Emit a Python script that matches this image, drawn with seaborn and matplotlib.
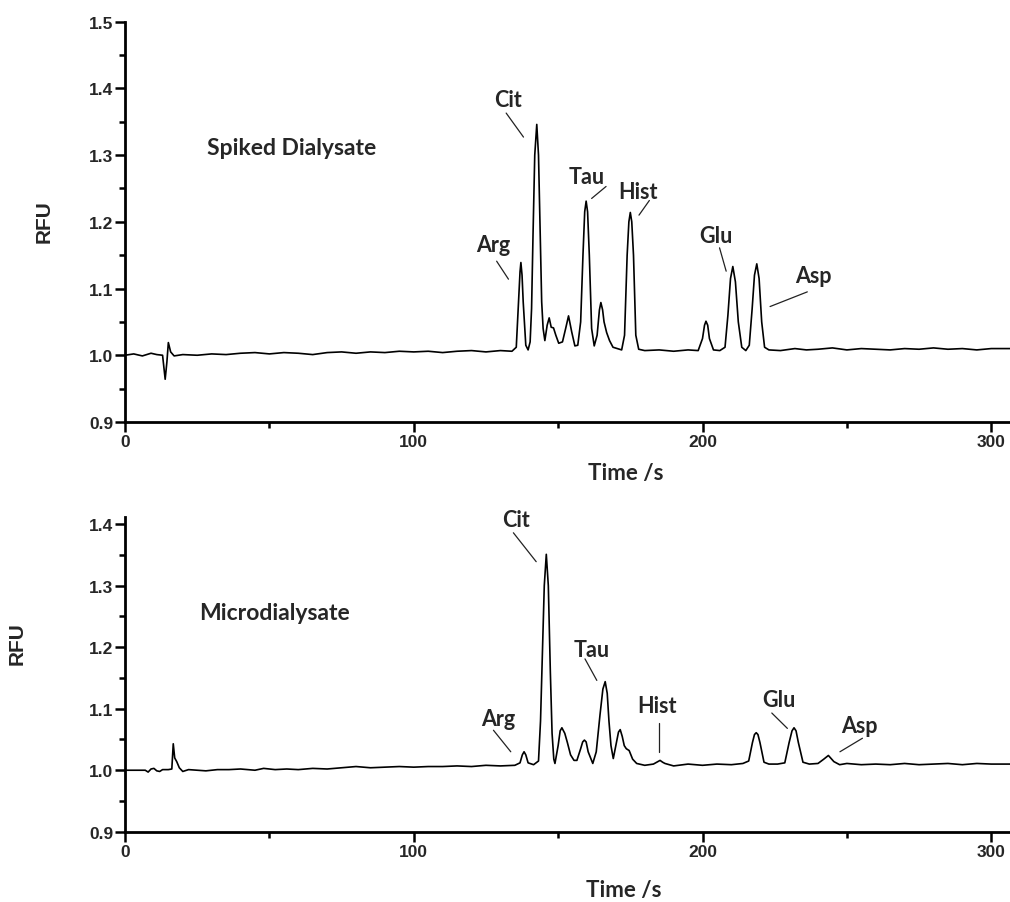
import numpy as np
import pandas as pd
import seaborn as sns
import matplotlib.pyplot as plt
from matplotlib.ticker import MultipleLocator

# ---------------------------------------------------------------------------
# Electropherogram traces as (migration time / s, RFU) pairs
# ---------------------------------------------------------------------------
spiked_trace = [
    (0, 1.000), (3, 1.002), (6, 0.999), (9, 1.003), (11, 1.001), (13, 1.000),
    (13.9, 0.964), (14.5, 0.990), (15.0, 1.019), (15.8, 1.005), (17, 0.999),
    (20, 1.001), (25, 1.000), (30, 1.002), (35, 1.001), (40, 1.003), (45, 1.004),
    (50, 1.002), (55, 1.004), (60, 1.003), (65, 1.001), (70, 1.004), (75, 1.005),
    (80, 1.003), (85, 1.005), (90, 1.004), (95, 1.006), (100, 1.005),
    (105, 1.006), (110, 1.004), (115, 1.006), (120, 1.007), (125, 1.005),
    (130, 1.007), (134, 1.006),
    # Arg
    (135.5, 1.012), (136.3, 1.080), (136.8, 1.125), (137.1, 1.139),
    (137.5, 1.120), (137.9, 1.080), (138.8, 1.015), (139.6, 1.008),
    # Cit
    (140.3, 1.020), (140.8, 1.070), (141.3, 1.180), (141.9, 1.300),
    (142.6, 1.346), (143.2, 1.300), (143.8, 1.180), (144.3, 1.080),
    (144.8, 1.040), (145.4, 1.022),
    (146.2, 1.045), (146.9, 1.056), (147.6, 1.042), (148.4, 1.041),
    (149.2, 1.030), (150.2, 1.018), (151.5, 1.020), (152.6, 1.040),
    (153.6, 1.059), (154.7, 1.035), (155.8, 1.014), (156.8, 1.015),
    # Tau
    (157.8, 1.050), (158.6, 1.150), (159.2, 1.215), (159.7, 1.231),
    (160.2, 1.215), (160.8, 1.150), (161.6, 1.040), (162.5, 1.014),
    (163.5, 1.030), (164.3, 1.068), (164.8, 1.079), (165.4, 1.068),
    (165.9, 1.050), (166.8, 1.034), (167.8, 1.022), (169, 1.012),
    (170.5, 1.010), (172.0, 1.008),
    # Hist
    (173.0, 1.030), (173.9, 1.150), (174.5, 1.200), (175.0, 1.214),
    (175.5, 1.200), (176.1, 1.150), (176.9, 1.030), (177.9, 1.009),
    (180, 1.007), (185, 1.008), (190, 1.006), (195, 1.008), (198.5, 1.007),
    (200, 1.025), (200.7, 1.045), (201.2, 1.051), (201.8, 1.045),
    (202.4, 1.025), (203.8, 1.008), (206, 1.007),
    # Glu
    (207.8, 1.012), (208.8, 1.060), (209.7, 1.115), (210.5, 1.133),
    (211.4, 1.110), (212.4, 1.050), (213.6, 1.012), (215, 1.007),
    # Asp
    (216.2, 1.015), (217.2, 1.070), (218.0, 1.120), (218.8, 1.137),
    (219.6, 1.115), (220.5, 1.050), (221.5, 1.012), (223, 1.008),
    (227, 1.007), (232, 1.010), (236, 1.008), (240, 1.009), (245, 1.011),
    (250, 1.008), (255, 1.010), (260, 1.009), (265, 1.008), (270, 1.010),
    (275, 1.009), (280, 1.011), (285, 1.009), (290, 1.010), (295, 1.008),
    (300, 1.010), (306.5, 1.010),
]

micro_trace = [
    (0, 1.000), (7, 1.000), (8, 0.997), (9, 1.002), (10, 1.003), (11, 0.999),
    (12, 0.998), (13, 1.001), (15, 1.001), (16.2, 1.002), (16.7, 1.043),
    (17.2, 1.020), (17.9, 1.014), (18.8, 1.004), (20, 0.998), (22, 1.001),
    (25, 1.000), (28, 0.999), (32, 1.001), (36, 1.001), (40, 1.002),
    (45, 1.000), (48, 1.003), (52, 1.001), (56, 1.002), (60, 1.001),
    (65, 1.003), (70, 1.002), (75, 1.004), (80, 1.006), (85, 1.004),
    (90, 1.005), (95, 1.006), (100, 1.005), (105, 1.006), (110, 1.006),
    (115, 1.007), (120, 1.006), (125, 1.008), (130, 1.007), (135, 1.008),
    # Arg
    (136.8, 1.012), (137.6, 1.025), (138.2, 1.030), (138.8, 1.025),
    (139.6, 1.012), (141.5, 1.009),
    # Cit
    (143.2, 1.015), (143.9, 1.080), (144.5, 1.180), (145.2, 1.300),
    (145.9, 1.351), (146.6, 1.300), (147.3, 1.160), (147.9, 1.060),
    (148.5, 1.018), (148.9, 1.011),
    (150.0, 1.040), (150.7, 1.064), (151.3, 1.069), (152.3, 1.060),
    (153.2, 1.045), (154.3, 1.025), (155.5, 1.016), (156.5, 1.016),
    (157.8, 1.035), (158.5, 1.046), (159.1, 1.049), (159.7, 1.046),
    (160.4, 1.030), (162.0, 1.011),
    # Tau
    (163.2, 1.030), (164.5, 1.090), (165.5, 1.132), (166.3, 1.144),
    (167.0, 1.125), (167.6, 1.080), (168.3, 1.040), (169.1, 1.019),
    (170.2, 1.045), (170.9, 1.062), (171.5, 1.066), (172.2, 1.055),
    (172.9, 1.040), (173.6, 1.035), (174.6, 1.032), (175.8, 1.018),
    (177.2, 1.011), (180, 1.008), (183, 1.010),
    # Hist
    (184.5, 1.014), (185.3, 1.016), (186.2, 1.013), (187, 1.011),
    (190, 1.007), (195, 1.010), (200, 1.008), (205, 1.010), (210, 1.009),
    (214, 1.011), (216, 1.015), (217.3, 1.045), (218.0, 1.058),
    (218.6, 1.061), (219.2, 1.058), (219.9, 1.045), (221.3, 1.013),
    (223, 1.010), (226, 1.010),
    # Glu
    (228.5, 1.012), (230.0, 1.045), (231.0, 1.064), (231.7, 1.069),
    (232.4, 1.064), (233.2, 1.045), (234.8, 1.013), (237, 1.010),
    # Asp
    (240, 1.011), (242, 1.018), (243.6, 1.024), (245.5, 1.014),
    (247.5, 1.009), (250, 1.011), (255, 1.009), (260, 1.010), (265, 1.009),
    (270, 1.011), (275, 1.009), (280, 1.010), (285, 1.011), (290, 1.009),
    (295, 1.011), (300, 1.010), (306.5, 1.010),
]

sample_titles = ["Spiked Dialysate", "Microdialysate"]
peak_names = ["Arg", "Cit", "Tau", "Hist", "Glu", "Asp"]
x_ticks = [0, 100, 200, 300]

# Label placement: (label x, label y, leader start, leader end) per peak
spiked_labels = {
    "Arg":  (127.4, 1.166, (128.7, 1.141), (132.8, 1.114)),
    "Cit":  (132.6, 1.383, (132.0, 1.363), (138.0, 1.327)),
    "Tau":  (159.9, 1.268, (161.6, 1.235), (166.6, 1.253)),
    "Hist": (177.6, 1.246, (178.0, 1.210), (181.6, 1.232)),
    "Glu":  (204.7, 1.179, (205.9, 1.161), (208.2, 1.126)),
    "Asp":  (238.4, 1.120, (236.3, 1.095), (223.4, 1.073)),
}
micro_labels = {
    "Arg":  (129.1, 1.084, (127.6, 1.065), (133.6, 1.030)),
    "Cit":  (135.4, 1.408, (134.5, 1.386), (142.4, 1.339)),
    "Tau":  (161.6, 1.197, (159.3, 1.181), (163.4, 1.146)),
    "Hist": (184.2, 1.105, (185.1, 1.076), (185.1, 1.030)),
    "Glu":  (226.5, 1.115, (224.0, 1.093), (229.4, 1.068)),
    "Asp":  (254.3, 1.073, (255.4, 1.052), (247.6, 1.030)),
}

sns.set_style("ticks")
plt.rcParams["font.family"] = ["Liberation Sans", "DejaVu Sans"]

LABEL_FONT = ["Lato", "DejaVu Sans"]

fig = plt.figure(figsize=(10.10, 9.03), dpi=100)
ax_top = fig.add_axes([0.1238, 0.5316, 0.8762, 0.4433])
ax_bot = fig.add_axes([0.1238, 0.0778, 0.8762, 0.3488])

panels = [
    (ax_top, spiked_trace, sample_titles[0], spiked_labels,
     (0.9, 1.5), (28.3, 1.311), (0.566, -0.125), (-0.081, 0.502)),
    (ax_bot, micro_trace, sample_titles[1], micro_labels,
     (0.9, 1.412), (25.7, 1.257), (0.563, -0.182), (-0.111, 0.602)),
]

for ax, trace, title, labels, ylim, title_pos, xlab_pos, ylab_pos in panels:
    df = pd.DataFrame(trace, columns=["time", "rfu"])
    sns.lineplot(data=df, x="time", y="rfu", ax=ax, color="black",
                 linewidth=1.2, estimator=None, sort=False)

    ax.set_xlim(0, 306.5)
    ax.set_ylim(*ylim)
    ax.set_xticks(x_ticks)
    ax.xaxis.set_minor_locator(MultipleLocator(50))
    ax.yaxis.set_minor_locator(MultipleLocator(0.05))
    yt = np.round(np.arange(0.9, ylim[1] + 1e-9, 0.1), 1)
    ax.set_yticks(yt)
    ax.set_yticklabels([f"{v:.1f}" for v in yt])

    sns.despine(ax=ax)
    for side in ("left", "bottom"):
        ax.spines[side].set_linewidth(2.0)
        ax.spines[side].set_color("black")
    ax.tick_params(axis="both", which="major", direction="out", length=7,
                   width=1.8, color="black", labelsize=12.5, pad=1.5)
    ax.tick_params(axis="both", which="minor", direction="out", length=4,
                   width=1.8, color="black")
    for lab in ax.get_xticklabels() + ax.get_yticklabels():
        lab.set_fontweight("bold")

    ax.set_xlabel("Time /s", fontsize=16, fontweight="bold", family=LABEL_FONT,
                  va="center")
    ax.xaxis.set_label_coords(*xlab_pos)
    ax.set_ylabel("RFU", fontsize=15, fontweight="bold")
    ax.yaxis.set_label_coords(*ylab_pos)

    ax.text(title_pos[0], title_pos[1], title, fontsize=16.5, fontweight="bold",
            family=LABEL_FONT, ha="left", va="center")

    for name in peak_names:
        lx, ly, (x0, y0), (x1, y1) = labels[name]
        ax.text(lx, ly, name, fontsize=15.5, fontweight="bold", family=LABEL_FONT,
                ha="center", va="center")
        ax.plot([x0, x1], [y0, y1], color="#222222", linewidth=0.9)

fig.savefig("out.png", dpi=100)
